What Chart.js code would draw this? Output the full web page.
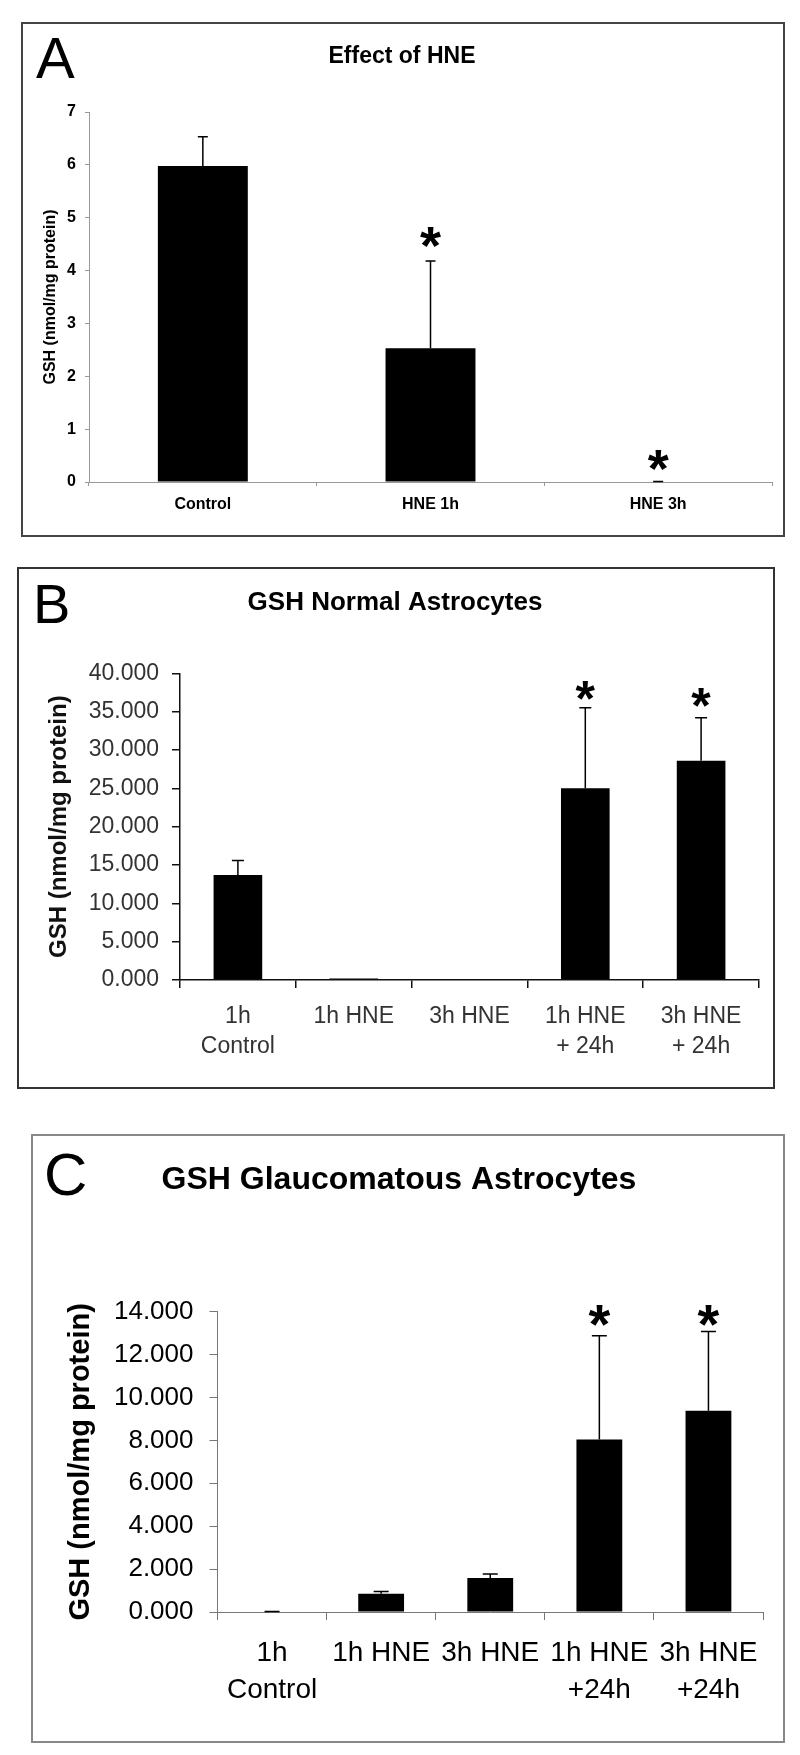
<!DOCTYPE html>
<html>
<head>
<meta charset="utf-8">
<script src="https://cdn.jsdelivr.net/npm/chart.js@4"></script>
<style>
  body { margin: 0; background: #fff; width: 800px; height: 1755px; position: relative; }
  canvas { position: absolute; }
  .frame { position: absolute; box-sizing: border-box; pointer-events: none; }
</style>
</head>
<body>
<canvas id="chartA" width="762" height="513" style="left:22px;top:23px"></canvas>
<canvas id="chartB" width="756" height="520" style="left:18px;top:568px"></canvas>
<canvas id="chartC" width="752" height="607" style="left:32px;top:1135px"></canvas>
<div class="frame" style="left:21px;top:22px;width:764px;height:515px;border:2px solid #444"></div>
<div class="frame" style="left:17px;top:567px;width:758px;height:522px;border:2px solid #333"></div>
<div class="frame" style="left:31px;top:1134px;width:754px;height:609px;border:2px solid #888"></div>
<script>
// panel A - Effect of HNE
const catsA = ['Control', 'HNE 1h', 'HNE 3h'];
const valsA = [5.98, 2.53, 0];
const errA = [0.55, 1.65, 0.01];
const starA = [null, 4.62, 0.4];
const ticksA = ['0', '1', '2', '3', '4', '5', '6', '7'];

// panel B - GSH Normal Astrocytes
const catsB = [['1h', 'Control'], '1h HNE', '3h HNE', ['1h HNE', '+ 24h'], ['3h HNE', '+ 24h']];
const valsB = [13.7, 0.2, 0, 25.0, 28.6];
const errB = [1.9, 0, 0, 10.5, 5.6];
const starB = [null, null, null, 37.8, 36.9];
const ticksB = ['0.000', '5.000', '10.000', '15.000', '20.000', '25.000', '30.000', '35.000', '40.000'];

// panel C - GSH Glaucomatous Astrocytes
const catsC = [['1h', 'Control'], '1h HNE', '3h HNE', ['1h HNE', '+24h'], ['3h HNE', '+24h']];
const valsC = [0, 0.85, 1.58, 8.04, 9.38];
const errC = [0.02, 0.11, 0.19, 4.84, 3.70];
const starC = [null, null, null, 13.8, 13.8];
const ticksC = ['0.000', '2.000', '4.000', '6.000', '8.000', '10.000', '12.000', '14.000'];

const yTitle = 'GSH (nmol/mg protein)';

Chart.defaults.font.family = "'Liberation Sans', Arial, sans-serif";

// error bars (plus only) and significance stars
const barExtras = {
  id: 'barExtras',
  afterDatasetsDraw(chart, args, opts) {
    const ctx = chart.ctx;
    const ds = chart.data.datasets[0];
    const meta = chart.getDatasetMeta(0);
    const y = chart.scales.y;
    ctx.save();
    ctx.strokeStyle = '#000';
    ctx.lineWidth = opts.lineWidth;
    meta.data.forEach((bar, i) => {
      const e = ds.errors[i];
      if (!e) return;
      const y0 = y.getPixelForValue(ds.data[i]);
      const y1 = y.getPixelForValue(ds.data[i] + e);
      ctx.beginPath();
      ctx.moveTo(bar.x, y0);
      ctx.lineTo(bar.x, y1);
      ctx.moveTo(bar.x - opts.cap / 2, y1);
      ctx.lineTo(bar.x + opts.cap / 2, y1);
      ctx.stroke();
    });
    ctx.fillStyle = '#000';
    ctx.font = opts.starFont;
    ctx.textAlign = 'center';
    ctx.textBaseline = 'alphabetic';
    const m = ctx.measureText('*');
    const mid = (m.actualBoundingBoxAscent - m.actualBoundingBoxDescent) / 2;
    meta.data.forEach((bar, i) => {
      const s = ds.stars[i];
      if (s == null) return;
      ctx.fillText('*', bar.x, y.getPixelForValue(s) + mid);
    });
    ctx.restore();
  }
};

const panelText = {
  id: 'panelText',
  afterDraw(chart, args, opts) {
    const ctx = chart.ctx;
    ctx.save();
    ctx.fillStyle = '#000';
    ctx.textBaseline = 'alphabetic';
    ctx.textAlign = 'left';
    ctx.font = opts.letterFont;
    ctx.fillText(opts.letter, opts.letterX, opts.letterY);
    ctx.textAlign = 'center';
    ctx.font = opts.titleFont;
    ctx.fillText(opts.title, opts.titleX, opts.titleY);
    ctx.restore();
  }
};

function makeChart(id, p) {
  return new Chart(document.getElementById(id), {
    type: 'bar',
    data: {
      labels: p.labels,
      datasets: [{
        data: p.values,
        errors: p.errors,
        stars: p.stars,
        backgroundColor: '#000',
        borderWidth: 0,
        barPercentage: p.barPct,
        categoryPercentage: 1
      }]
    },
    options: {
      responsive: false,
      animation: false,
      layout: { padding: p.padding },
      plugins: {
        legend: { display: false },
        tooltip: { enabled: false },
        barExtras: p.extras,
        panelText: p.text
      },
      scales: {
        x: {
          offset: true,
          grid: { display: true, drawOnChartArea: false, offset: true, tickLength: p.tick, color: p.axisColor, lineWidth: p.axisWidth },
          border: { display: true, color: p.axisColor, width: p.axisWidth },
          ticks: { color: p.textColor, font: p.xFont, padding: p.xPad, maxRotation: 0, autoSkip: false },
          afterFit: s => { s.height = p.xHeight; }
        },
        y: {
          min: 0,
          max: p.yMax,
          grid: { display: true, drawOnChartArea: false, tickLength: p.tick, color: p.axisColor, lineWidth: p.axisWidth },
          border: { display: true, color: p.axisColor, width: p.axisWidth },
          ticks: { stepSize: p.step, color: p.textColor, font: p.yFont, padding: p.yPad, callback: (v, i) => p.tickLabels[i] },
          title: { display: true, text: yTitle, color: p.titleColor, font: p.yTitleFont, padding: 0 },
          afterFit: s => { s.width = p.yWidth; }
        }
      }
    },
    plugins: [barExtras, panelText]
  });
}

makeChart('chartA', {
  labels: catsA, values: valsA, errors: errA, stars: starA, tickLabels: ticksA,
  yMax: 7, step: 1, barPct: 0.395,
  padding: { left: 19.4, top: 89, right: 12, bottom: 14 },
  yWidth: 47.6, xHeight: 40, tick: 4, xPad: 9, yPad: 9,
  axisColor: '#999', axisWidth: 1, textColor: '#000', titleColor: '#000',
  xFont: { size: 16, weight: 'bold' }, yFont: { size: 16, weight: 'bold' },
  yTitleFont: { size: 16, weight: 'bold' },
  extras: { lineWidth: 1.5, cap: 10, starFont: 'bold 54px "Liberation Sans", Arial' },
  text: { letter: 'A', letterFont: '58px "Liberation Sans", Arial', letterX: 14, letterY: 55,
          title: 'Effect of HNE', titleFont: 'bold 23px "Liberation Sans", Arial', titleX: 380, titleY: 40 }
});

makeChart('chartB', {
  labels: catsB, values: valsB, errors: errB, stars: starB, tickLabels: ticksB,
  yMax: 40, step: 5, barPct: 0.42,
  padding: { left: 26.6, top: 105.3, right: 15, bottom: 8 },
  yWidth: 135.4, xHeight: 100, tick: 8, xPad: 14, yPad: 13,
  axisColor: '#111', axisWidth: 1.5, textColor: '#333', titleColor: '#111',
  xFont: { size: 23, lineHeight: 1.3 }, yFont: { size: 23 },
  yTitleFont: { size: 24, weight: 'bold' },
  extras: { lineWidth: 1.5, cap: 12, starFont: 'bold 50px "Liberation Sans", Arial' },
  text: { letter: 'B', letterFont: '56px "Liberation Sans", Arial', letterX: 15, letterY: 55,
          title: 'GSH Normal Astrocytes', titleFont: 'bold 26px "Liberation Sans", Arial', titleX: 377, titleY: 42 }
});

makeChart('chartC', {
  labels: catsC, values: valsC, errors: errC, stars: starC, tickLabels: ticksC,
  yMax: 14, step: 2, barPct: 0.42,
  padding: { left: 31.6, top: 176.7, right: 21, bottom: 20 },
  yWidth: 153.9, xHeight: 110, tick: 8, xPad: 14.5, yPad: 16,
  axisColor: '#777', axisWidth: 1, textColor: '#000', titleColor: '#000',
  xFont: { size: 28, lineHeight: 1.32 }, yFont: { size: 26 },
  yTitleFont: { size: 29, weight: 'bold' },
  extras: { lineWidth: 1.5, cap: 15, starFont: 'bold 56px "Liberation Sans", Arial' },
  text: { letter: 'C', letterFont: '60px "Liberation Sans", Arial', letterX: 12, letterY: 60,
          title: 'GSH Glaucomatous Astrocytes', titleFont: 'bold 32px "Liberation Sans", Arial', titleX: 367, titleY: 54 }
});
</script>
</body>
</html>
